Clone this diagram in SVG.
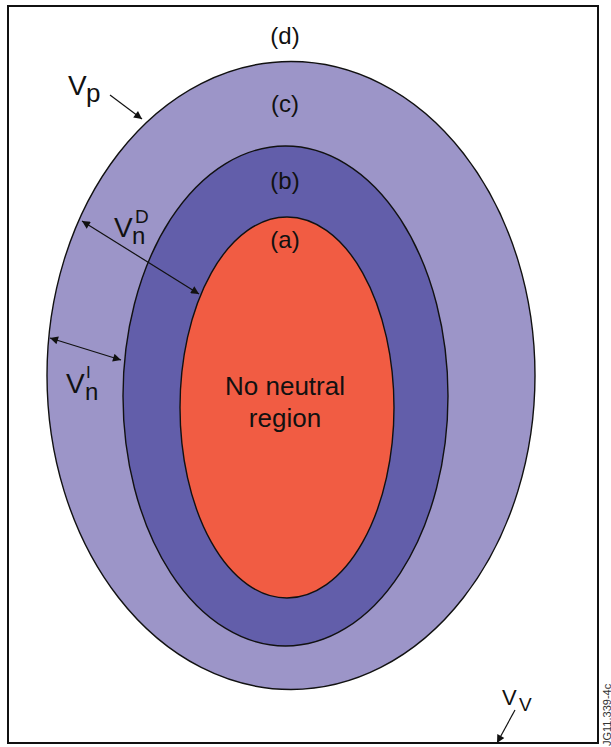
<svg xmlns="http://www.w3.org/2000/svg" width="611" height="747" viewBox="0 0 611 747">
<style>
text{font-family:"Liberation Sans",Arial,sans-serif;fill:#111}
.lbl{font-size:24px;text-anchor:middle}
.el{stroke:#111;stroke-width:1.4}
.con{stroke:#111;stroke-width:1.2;fill:none}
</style>
<defs>
<marker id="ah" viewBox="0 0 10 10" refX="10" refY="5" markerWidth="10" markerHeight="8" markerUnits="userSpaceOnUse" orient="auto-start-reverse">
<path d="M0,0 L10,5 L0,10 z" fill="#111"/>
</marker>
</defs>
<rect x="0" y="0" width="611" height="747" fill="#fff"/>
<rect x="8" y="6" width="590" height="737" fill="none" stroke="#111" stroke-width="2"/>
<g id="region-d">
<text class="lbl" x="285" y="44">(d)</text>
</g>
<g id="region-c">
<ellipse class="el" cx="291" cy="375.5" rx="244" ry="314" fill="#9C95C8"/>
<text class="lbl" x="285" y="112">(c)</text>
</g>
<g id="region-b">
<ellipse class="el" cx="285.5" cy="396" rx="162.5" ry="250" fill="#625EAA"/>
<text class="lbl" x="285" y="189">(b)</text>
</g>
<g id="region-a">
<ellipse class="el" cx="287" cy="407.5" rx="107" ry="190.5" fill="#F15C43"/>
<text class="lbl" x="285" y="248">(a)</text>
<text class="lbl" x="285" y="395" style="font-size:26px">No neutral</text>
<text class="lbl" x="285" y="427" style="font-size:26px">region</text>
</g>
<g id="connectors">
<line class="con" x1="110" y1="95" x2="142" y2="119" marker-end="url(#ah)"/>
<line class="con" x1="82" y1="221" x2="199" y2="294" marker-start="url(#ah)" marker-end="url(#ah)"/>
<line class="con" x1="50" y1="338" x2="121" y2="360" marker-start="url(#ah)" marker-end="url(#ah)"/>
<line class="con" x1="515" y1="710" x2="497" y2="743" marker-end="url(#ah)"/>
</g>
<g id="label-vp">
<text x="68" y="95" style="font-size:28px">V</text>
<text x="86" y="102" style="font-size:26px">p</text>
</g>
<g id="label-vnd">
<text x="114" y="237" style="font-size:28px">V</text>
<text x="132" y="244" style="font-size:24px">n</text>
<text x="135" y="223" style="font-size:19px">D</text>
</g>
<g id="label-vni">
<text x="66" y="393" style="font-size:28px">V</text>
<text x="85" y="400" style="font-size:24px">n</text>
<text x="86" y="378" style="font-size:17px">I</text>
</g>
<g id="label-vv">
<text x="502" y="705" style="font-size:22px">V</text>
<text x="519" y="711" style="font-size:19px">V</text>
</g>
<text transform="translate(611,746) rotate(-90)" style="font-size:11px;fill:#333">JG11.339-4c</text>
</svg>
